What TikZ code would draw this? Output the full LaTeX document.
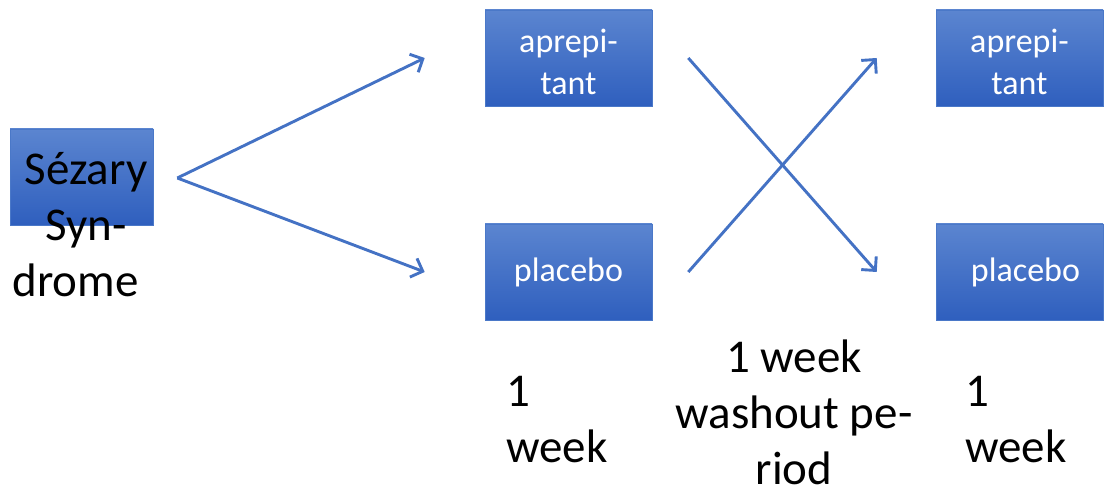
\documentclass[tikz,border=0pt]{standalone}
\usepackage{fontspec}
\setmainfont{Carlito}
\usetikzlibrary{arrows.meta,calc}
\definecolor{boxtop}{HTML}{5B85D0}
\definecolor{boxbot}{HTML}{2F5FBE}
\definecolor{boxline}{HTML}{4A78C8}
\definecolor{arrowblue}{HTML}{4472C4}
\tikzset{
  armbox/.style={rectangle, minimum width=167pt, minimum height=96pt, inner sep=0pt,
    top color=boxtop, bottom color=boxbot, draw=boxline, line width=0.6pt,
    text=white, align=center, font=\fontsize{34}{42}\selectfont},
  twoline/.style={text height=81pt, text depth=7pt},
  bigtext/.style={text=black, font=\fontsize{47}{56}\selectfont, inner sep=0pt},
  flow/.style={draw=arrowblue, line width=2.9pt, -{Straight Barb[length=10pt,width=20pt,line width=2.9pt]}}
}
\begin{document}
\begin{tikzpicture}[x=1pt,y=-1pt]
\useasboundingbox (0,0) rectangle (1104,494);
% boxes
\node[armbox, minimum width=143pt] (ss) at (81.5,177) {};
\node[armbox, twoline] (a1) at (568.5,58) {aprepi-\\tant};
\node[armbox] (p1) at (568.5,272) {placebo};
\node[armbox, twoline] (a2) at (1019.5,58) {aprepi-\\tant};
\node[armbox] (p2) at (1019.5,272) {\hspace{12pt}placebo};
% Sezary text (base anchor = last line)
\node[bigtext, align=center, anchor=base] (sst) at (86,297) {Sézary\\Syn-\\drome\hspace*{21pt}};
% connector end points
\coordinate (fork) at ($(ss.east)+(24,1)$);
\coordinate (a1in) at ($(a1.west)+(-60,0)$);
\coordinate (p1in) at ($(p1.west)+(-60,0)$);
\coordinate (a1out) at ($(a1.east)+(36,0)$);
\coordinate (p1out) at ($(p1.east)+(36,0)$);
\coordinate (a2in) at ($(a2.west)+(-59,0)$);
\coordinate (p2in) at ($(p2.west)+(-59,0)$);
\draw[flow] (fork) -- (a1in);
\draw[flow] (fork) -- (p1in);
\draw[flow] (a1out) -- (p2in);
\draw[flow] (p1out) -- (a2in);
% bottom labels (base anchor = last line)
\node[bigtext, align=left, anchor=base west] (w1) at (506,462) {1\\week};
\node[bigtext, align=center, anchor=base, text depth=0pt] (wo) at (794,485) {1 week\\washout pe-\\riod};
\node[bigtext, align=left, anchor=base west] (w2) at (965,462) {1\\week};
\end{tikzpicture}
\end{document}
